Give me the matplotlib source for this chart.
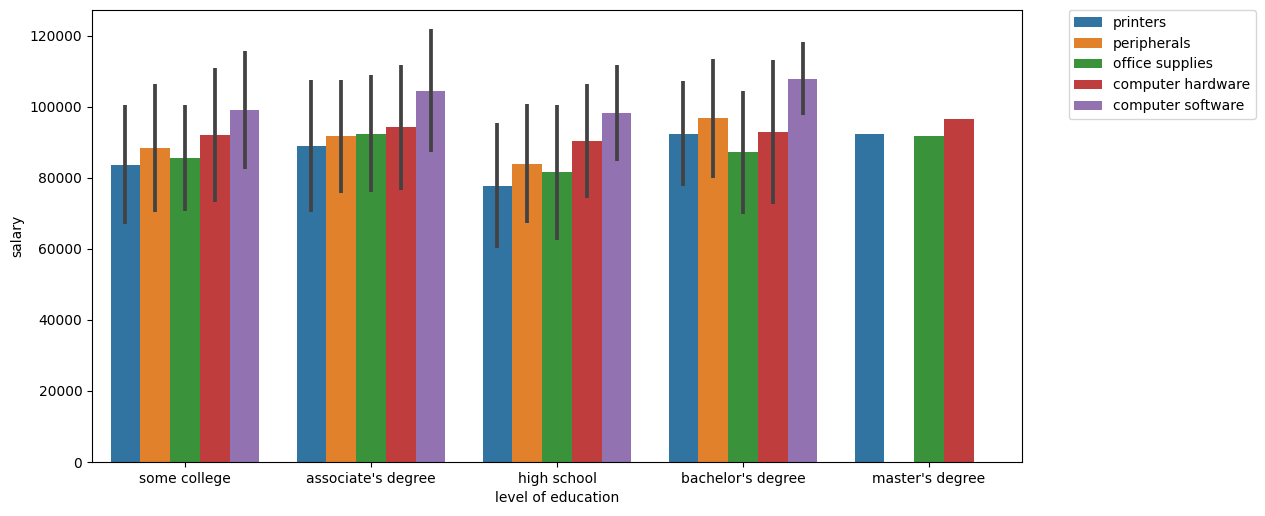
import matplotlib
matplotlib.use("Agg")
import matplotlib.pyplot as plt
import numpy as np

education = ["some college", "associate's degree", "high school", "bachelor's degree", "master's degree"]
departments = ["printers", "peripherals", "office supplies", "computer hardware", "computer software"]

# mean salary per department (rows) for each education level (columns); None = no data
salary_mean = {
    "printers":           [83700, 89000, 77800, 92400, 92400],
    "peripherals":        [88500, 91800, 83900, 96900, None],
    "office supplies":    [85600, 92400, 81700, 87300, 91800],
    "computer hardware":  [92100, 94400, 90400, 93000, 96600],
    "computer software":  [99200, 104500, 98300, 107900, None],
}
# 95% CI lower / upper
ci_low = {
    "printers":           [67100, 70400, 60300, 77800, None],
    "peripherals":        [70400, 75800, 67300, 80000, None],
    "office supplies":    [70700, 76100, 62500, 69900, None],
    "computer hardware":  [73200, 76600, 74400, 72800, None],
    "computer software":  [82500, 87300, 84800, 97800, None],
}
ci_high = {
    "printers":           [100500, 107500, 95400, 107200, None],
    "peripherals":        [106500, 107500, 100800, 113400, None],
    "office supplies":    [100500, 108900, 100500, 104400, None],
    "computer hardware":  [110900, 111700, 106400, 113200, None],
    "computer software":  [115700, 121900, 111700, 118200, None],
}
colors = ["#3274a1", "#e1812c", "#3a923a", "#c03d3e", "#9372b2"]

fig = plt.figure(figsize=(12.65, 5.16), dpi=100)
ax = fig.add_axes([92/1265, 54/516, 930/1265, 452/516])

n = len(departments)
width = 0.8 / n
x = np.arange(len(education))
for i, dep in enumerate(departments):
    off = -0.4 + width * (i + 0.5)
    for j in range(len(education)):
        v = salary_mean[dep][j]
        if v is None:
            continue
        ax.bar(x[j] + off, v, width=width, color=colors[i], linewidth=0,
               label=dep if j == 0 else None)
        lo, hi = ci_low[dep][j], ci_high[dep][j]
        if lo is not None:
            ax.plot([x[j] + off, x[j] + off], [lo, hi], color=".26", linewidth=2.7,
                    solid_capstyle="butt", zorder=3)

ax.set_xlim(-0.5, len(education) - 0.5)
ax.set_ylim(0, 127300)
ax.set_xticks(x)
ax.set_xticklabels(education)
ax.set_xlabel("level of education")
ax.set_ylabel("salary")
ax.legend(bbox_to_anchor=(1.05, 1), loc=2, borderaxespad=0.)

fig.savefig("out.png", dpi=100)
